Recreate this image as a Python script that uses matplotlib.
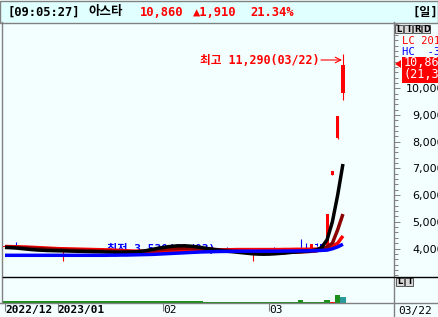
import matplotlib
matplotlib.use('Agg')
import matplotlib.pyplot as plt
from matplotlib.ticker import MultipleLocator, FuncFormatter, FixedLocator
from matplotlib.patches import Rectangle, Polygon

W, H = 439, 317

# daily candles, 2022/12/16 .. 2023/03/22
opens = [4050, 4100, 4120, 4060, 4090, 4050, 4070, 4000, 4040, 3990,
         4010, 3960, 3990, 3950, 3980, 3940, 3960, 3930, 3950, 3910,
         3930, 3890, 3910, 3870, 3890, 3860, 3910, 3880, 3950, 4000,
         3980, 4060, 4040, 4080, 4050, 4080, 4040, 4060, 4000, 3990,
         3970, 3950, 3960, 3930, 3910, 3880, 3860, 3810, 3830, 3800,
         3790, 3810, 3800, 3830, 3850, 3870, 3900, 3930, 3980, 4170,
         4150, 4060, 6750, 8140, 9820]
highs = [4130, 4110, 4240, 4100, 4100, 4090, 4080, 4060, 4050, 4040,
         4020, 4000, 4000, 3990, 3990, 3980, 3970, 3970, 3960, 3950,
         3940, 3930, 3920, 3920, 3900, 3930, 3920, 4010, 4030, 4080,
         4100, 4090, 4110, 4100, 4110, 4100, 4080, 4070, 4020, 4010,
         4000, 3990, 4050, 3950, 3930, 3900, 3880, 3860, 3850, 3820,
         3830, 4050, 3850, 3870, 3890, 3900, 4360, 4210, 4180, 4190,
         4210, 5296, 6885, 8950, 11290]
lows = [4030, 4050, 4040, 4030, 4020, 4020, 3990, 3980, 3960, 3950,
        3940, 3530, 3930, 3920, 3920, 3910, 3900, 3900, 3890, 3880,
        3870, 3860, 3850, 3850, 3840, 3850, 3860, 3870, 3930, 3960,
        3970, 4000, 4020, 4020, 4030, 4000, 4010, 3980, 3960, 3940,
        3920, 3920, 3900, 3880, 3860, 3840, 3820, 3545, 3780, 3770,
        3770, 3780, 3790, 3810, 3830, 3850, 3860, 3880, 3960, 4100,
        4040, 4030, 6750, 8100, 9560]
closes = [4100, 4070, 4060, 4090, 4050, 4080, 4010, 4040, 3980, 4020,
          3960, 3990, 3950, 3980, 3940, 3970, 3930, 3960, 3910, 3940,
          3890, 3920, 3870, 3900, 3860, 3910, 3880, 3950, 4000, 3980,
          4060, 4040, 4080, 4050, 4090, 4040, 4060, 4000, 3990, 3970,
          3950, 3960, 3930, 3910, 3890, 3860, 3850, 3840, 3800, 3790,
          3810, 3800, 3830, 3850, 3870, 3880, 3890, 3910, 4160, 4130,
          4074, 5296, 6885, 8950, 10860]

# moving average lines
ma_black = [4040, 4030, 4020, 4000, 3980, 3960, 3945, 3935, 3925, 3920,
            3915, 3910, 3905, 3900, 3895, 3890, 3885, 3880, 3875, 3870,
            3865, 3860, 3860, 3865, 3870, 3880, 3900, 3930, 3970, 4010,
            4040, 4070, 4090, 4100, 4100, 4090, 4070, 4040, 4010, 3980,
            3950, 3920, 3900, 3880, 3860, 3840, 3820, 3800, 3790, 3785,
            3790, 3800, 3815, 3830, 3850, 3870, 3885, 3900, 3920, 3950,
            4040, 4330, 5000, 6000, 7165]
ma_maroon = [4060, 4050, 4040, 4030, 4020, 4010, 4000, 3990, 3980, 3970,
             3960, 3950, 3940, 3935, 3930, 3925, 3920, 3915, 3910, 3905,
             3900, 3895, 3890, 3885, 3880, 3880, 3890, 3910, 3930, 3950,
             3970, 3985, 3995, 4005, 4010, 4010, 4005, 3995, 3985, 3975,
             3960, 3945, 3930, 3915, 3900, 3885, 3870, 3860, 3855, 3850,
             3850, 3850, 3850, 3855, 3860, 3865, 3870, 3880, 3895, 3910,
             3990, 4060, 4200, 4700, 5290]
ma_red = [4075, 4070, 4065, 4060, 4055, 4045, 4035, 4025, 4015, 4005,
          3995, 3990, 3985, 3980, 3975, 3970, 3965, 3960, 3955, 3950,
          3945, 3935, 3925, 3915, 3905, 3900, 3895, 3890, 3885, 3885,
          3890, 3895, 3900, 3905, 3910, 3915, 3920, 3925, 3930, 3935,
          3940, 3945, 3950, 3955, 3960, 3960, 3960, 3960, 3960, 3960,
          3960, 3960, 3960, 3965, 3965, 3970, 3970, 3970, 3975, 3975,
          3990, 3995, 4080, 4200, 4470]
ma_blue = [3745, 3745, 3745, 3745, 3745, 3745, 3745, 3745, 3745, 3745,
           3745, 3745, 3745, 3745, 3745, 3745, 3745, 3745, 3745, 3745,
           3750, 3750, 3755, 3755, 3760, 3765, 3770, 3775, 3780, 3790,
           3800, 3810, 3820, 3830, 3840, 3850, 3860, 3870, 3875, 3880,
           3885, 3890, 3890, 3895, 3895, 3900, 3900, 3900, 3900, 3900,
           3900, 3900, 3900, 3905, 3905, 3905, 3910, 3910, 3915, 3920,
           3930, 3940, 3990, 4060, 4160]

volumes = [2, 2, 2, 2, 2, 2, 2, 2, 2, 2,
           2, 2, 2, 2, 2, 2, 2, 2, 2, 2,
           2, 2, 2, 2, 2, 2, 2, 2, 2, 2,
           2, 2, 2, 2, 2, 2, 2, 2, 1, 1,
           1, 1, 1, 1, 1, 1, 1, 1, 1, 1,
           1, 1, 1, 1, 1, 1, 3, 1, 1, 1,
           1, 3, 1, 8, 6]

date_pos = [0, 10, 30, 50]
date_labels = ['2022/12', '2023/01', '02', '03']
price_ticks = [4000, 5000, 6000, 7000, 8000, 9000, 10000]

GRAY = '#808080'
RED = '#ff0000'
BLUE = '#0000ff'
MONO_KR = ['DejaVu Sans Mono', 'Noto Sans CJK KR']


def box(x0, y0, x1, y1):
    return [x0 / W, 1 - y1 / H, (x1 - x0) / W, (y1 - y0) / H]


fig = plt.figure(figsize=(W / 100, H / 100), dpi=100)
fig.patch.set_facecolor('#f3ffff')

n = len(closes)
days = list(range(n))

# ---- price pane ----
ax = fig.add_axes(box(3, 23, 394, 276))
ax.set_facecolor('none')
ax.set_xlim(-0.38, 73.67)
ax.set_ylim(2970, 12446)
for s in ax.spines.values():
    s.set_visible(False)
ax.set_xticks([])

ax.text(19.3, 3990, '최저 3,530(01/03)', color=BLUE, fontsize=8, fontweight='bold',
        family=MONO_KR, va='center', ha='left', zorder=1)

up = [c >= o for o, c in zip(opens, closes)]
cols = [RED if u else BLUE for u in up]
ax.vlines(days, lows, highs, colors=cols, lw=0.8, zorder=2)
bottoms = [min(o, c) for o, c in zip(opens, closes)]
heights = [max(abs(c - o), 40) for o, c in zip(opens, closes)]
ax.bar(days, heights, bottom=bottoms, width=0.6, color=cols, zorder=2)

ax.plot(days, ma_red, color='#ff0000', lw=2.5, zorder=3, solid_capstyle='butt')
ax.plot(days, ma_maroon, color='#8b0000', lw=2.5, zorder=3, solid_capstyle='butt')
ax.plot(days, ma_black, color='black', lw=2.5, zorder=3, solid_capstyle='butt')
ax.plot(days, ma_blue, color='#0000ff', lw=2.5, zorder=3, solid_capstyle='butt')

ax.yaxis.tick_right()
ax.yaxis.set_major_locator(FixedLocator(price_ticks))
ax.yaxis.set_minor_locator(MultipleLocator(200))
ax.yaxis.set_major_formatter(FuncFormatter(lambda v, p: f'{int(v):,}'))
ax.tick_params(axis='y', which='major', length=4.3, width=0.7, color=GRAY,
               pad=31.7, labelsize=8, labelcolor='black')
ax.tick_params(axis='y', which='minor', length=2.9, width=0.7, color=GRAY)
for lab in ax.get_yticklabels():
    lab.set_horizontalalignment('right')

# ---- volume pane ----
vax = fig.add_axes(box(3, 277, 394, 303))
vax.set_facecolor('none')
vax.set_xlim(-0.38, 73.67)
vax.set_ylim(0, 26)
for s in vax.spines.values():
    s.set_visible(False)
vax.set_yticks([])
vcols = ['#1a8f1a'] * n
vcols[62] = RED
vcols[64] = '#2a9a9a'
vax.bar(days, volumes, width=1.0, color=vcols, bottom=0.5)
vax.set_xticks(date_pos)
labs = vax.set_xticklabels(date_labels, ha='left', fontsize=8, family='DejaVu Sans Mono')
labs[0].set_fontweight('bold')
labs[1].set_fontweight('bold')
vax.tick_params(axis='x', length=5.8, width=0.8, color=GRAY, pad=-4.5)

# ---- frame, header and right-side boxes ----
ov = fig.add_axes([0, 0, 1, 1], zorder=10)
ov.set_xlim(0, W)
ov.set_ylim(H, 0)
ov.axis('off')
ov.patch.set_visible(False)

ov.add_patch(Rectangle((0.5, 0.5), W - 1, 22, facecolor='#e0ffff', edgecolor=GRAY, lw=1))
ov.text(8, 12, '[09:05:27]', fontsize=8.7, fontweight='bold', family=MONO_KR, va='center')
ov.text(88, 12, '아스타', fontsize=9, fontweight='bold', family=['Noto Sans CJK KR'], va='center')
ov.text(140, 12, '10,860', fontsize=8.7, fontweight='bold', family=MONO_KR, color=RED, va='center')
ov.text(193, 12, '▲1,910', fontsize=8.7, fontweight='bold', family=MONO_KR, color=RED, va='center')
ov.text(250, 12, '21.34%', fontsize=8.7, fontweight='bold', family=MONO_KR, color=RED, va='center')
ov.text(413, 12, '[일]', fontsize=8.7, fontweight='bold', family=MONO_KR, va='center')

ov.plot([2.5, 2.5], [22, 303], color=GRAY, lw=1)
ov.plot([394, 394], [22, 317], color=GRAY, lw=1)
ov.plot([3, W], [276.5, 276.5], color='black', lw=1)
ov.plot([0, W], [303, 303], color=GRAY, lw=1)

for k, ch in enumerate('LIRD'):
    ov.add_patch(Rectangle((395 + 9 * k, 25), 8.5, 7.5, facecolor='#d8d8d8', edgecolor='#404040', lw=0.6))
    ov.text(399.3 + 9 * k, 29, ch, fontsize=6, fontweight='bold', ha='center', va='center')
for k, ch in enumerate('LI'):
    ov.add_patch(Rectangle((396 + 9 * k, 278), 8.5, 7.5, facecolor='#d8d8d8', edgecolor='#404040', lw=0.6))
    ov.text(400.3 + 9 * k, 282, ch, fontsize=6, fontweight='bold', ha='center', va='center')

ov.text(402, 41, 'LC 201', fontsize=7.6, family='DejaVu Sans Mono', color=RED, va='center')
ov.text(402, 52, 'HC  -3', fontsize=7.6, family='DejaVu Sans Mono', color=BLUE, va='center')
ov.add_patch(Rectangle((402, 57), 40, 26, facecolor=RED, edgecolor='none'))
ov.add_patch(Polygon([(395, 64), (401, 60), (401, 68)], closed=True, facecolor=RED, edgecolor='none'))
ov.text(404, 63, '10,860', fontsize=8.5, family='DejaVu Sans Mono', color='white', va='center')
ov.text(404, 75, '(21,34%)', fontsize=8.5, family='DejaVu Sans Mono', color='white', va='center')

ov.text(320, 60, '최고 11,290(03/22)', fontsize=8.4, fontweight='bold', family=MONO_KR,
        color=RED, ha='right', va='center')
ov.annotate('', xy=(342, 60), xytext=(321, 60),
            arrowprops=dict(arrowstyle='->', color=RED, lw=0.8, shrinkA=0, shrinkB=0))

ov.text(398, 311, '03/22', fontsize=8, family='DejaVu Sans Mono', va='center')

fig.savefig('out.png', dpi=100, facecolor=fig.get_facecolor())
